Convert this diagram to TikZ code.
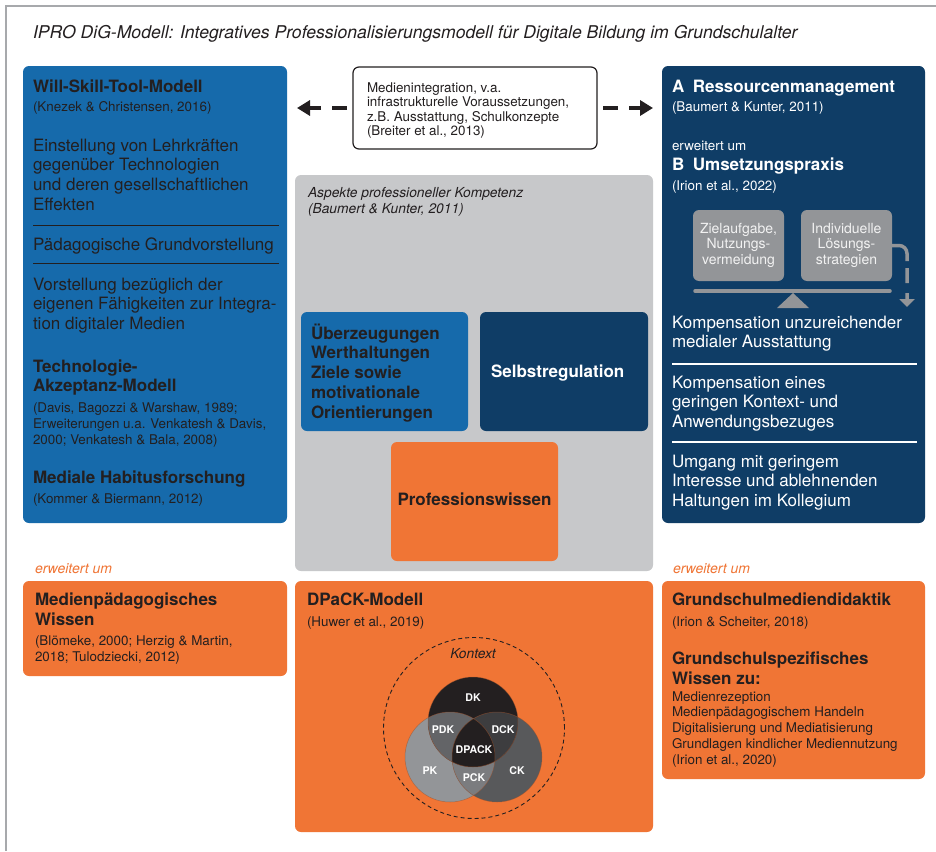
\documentclass[tikz,border=0pt]{standalone}
\usepackage{fontspec}
\setmainfont{TeX Gyre Heros}
\usetikzlibrary{arrows.meta}
\definecolor{dark}{HTML}{231F20}
\definecolor{midblue}{HTML}{166AAB}
\definecolor{navy}{HTML}{0F3D66}
\definecolor{orng}{HTML}{F07535}
\definecolor{lgray}{HTML}{C7C8CA}
\definecolor{mgray}{HTML}{939598}
\definecolor{framegray}{HTML}{A7A9AC}
\definecolor{dkcol}{HTML}{231F20}
\definecolor{pkcol}{HTML}{939598}
\definecolor{ckcol}{HTML}{58595B}
\definecolor{pdkcol}{HTML}{636467}
\definecolor{dckcol}{HTML}{3D3D3F}
\definecolor{pckcol}{HTML}{7B7C7F}
\newcommand\mylines[6]{%
  \foreach \t [count=\i] in {#6}{\node[#1] (#2-\i) at (#3,{#4+(\i-1)*(#5)}) {\t};}}
\tikzset{
  txt/.style={inner sep=0pt, outer sep=0pt, text=dark, anchor=base west},
  ctxt/.style={inner sep=0pt, outer sep=0pt, text=dark, anchor=base},
  fbody/.style={font=\fontsize{17}{20}\selectfont},
  fbold/.style={font=\fontsize{17}{20}\selectfont\bfseries},
  fsmall/.style={font=\fontsize{13.4}{16}\selectfont},
  fsit/.style={font=\fontsize{13.8}{16}\selectfont\itshape},
  fgbox/.style={font=\fontsize{14}{16}\selectfont},
  ferw/.style={font=\fontsize{14}{16}\selectfont\itshape, text=orng},
  fvenn/.style={font=\fontsize{10.6}{13}\selectfont\bfseries, text=white},
  panel/.style={rounded corners=6pt, draw=none, inner sep=0pt, outer sep=0pt, anchor=north west},
  sepdark/.style={draw=dark, line width=1pt},
  seplight/.style={draw=white, line width=1.2pt},
  darr/.style={draw=dark, line width=4pt, dash pattern=on 15pt off 11pt on 60pt,
    -{Triangle[length=13pt,width=15pt]}},
  sarr/.style={draw=mgray, line width=3.5pt, rounded corners=8pt,
    dash pattern=on 27pt off 7pt on 15pt off 10pt on 40pt,
    -{Triangle[length=8pt,width=15pt]}},
}
\begin{document}
\begin{tikzpicture}[x=1pt,y=-1pt]
\useasboundingbox (0,0) rectangle (936,851);
\fill[white] (0,0) rectangle (936,851);
% frame
\draw[framegray, line width=1.5pt] (6,851) -- (6,6) -- (936,6);
% title
\node[txt, font=\fontsize{17.6}{20}\selectfont\itshape] (title) at (33,39)
  {IPRO DiG-Modell: Integratives Professionalisierungsmodell für Digitale Bildung im Grundschulalter};

% ---------- left blue box
\node[panel, fill=midblue, minimum width=264pt, minimum height=457pt] (wst) at (23,66) {};
\node[txt, fbold] (wst-t) at (33,92) {Will-Skill-Tool-Modell};
\node[txt, fsmall] (wst-r) at (33,111) {(Knezek \& Christensen, 2016)};
\mylines{txt, fbody}{einst}{33}{151}{19.7}{Einstellung von Lehrkräften, gegenüber Technologien, und deren gesellschaftlichen, Effekten}
\draw[sepdark] (33,225) -- (279,225);
\node[txt, fbody] (paed) at (33,250) {Pädagogische Grundvorstellung};
\draw[sepdark] (33,263) -- (279,263);
\mylines{txt, fbody}{vorst}{33}{290}{19.7}{Vorstellung bezüglich der, eigenen Fähigkeiten zur Integra-, tion digitaler Medien}
\mylines{txt, fbold}{tam}{33}{372}{19.7}{Technologie-, Akzeptanz-Modell}
\mylines{txt, fsmall}{tamr}{33}{412}{16}{{(Davis, Bagozzi \& Warshaw, 1989;}, {Erweiterungen u.a. Venkatesh \& Davis,}, {2000; Venkatesh \& Bala, 2008)}}
\node[txt, fbold] (hab) at (33,483) {Mediale Habitusforschung};
\node[txt, fsmall] (habr) at (33,503) {(Kommer \& Biermann, 2012)};

% ---------- middle white box
\node[panel, fill=white, draw=dark, line width=1.2pt, minimum width=244pt, minimum height=82pt] (medien) at (353,67) {};
\mylines{txt, fsmall}{med}{367}{92}{14.5}{{Medienintegration, v.a.}, {infrastrukturelle Voraussetzungen,}, {z.B. Ausstattung, Schulkonzepte}, {(Breiter et al., 2013)}}
\coordinate (la) at (medien.west -| wst.east);

% ---------- right navy box
\node[panel, fill=navy, minimum width=263pt, minimum height=457pt] (res) at (662,66) {};
\coordinate (ra) at (medien.east -| res.west);
\draw[darr] ([xshift=-6pt]medien.west) -- ([xshift=10pt]la);
\draw[darr] ([xshift=6pt]medien.east) -- ([xshift=-9pt]ra);
\node[txt, fbold, text=white] (resA) at (672,92) {A\hspace{8.5pt}Ressourcenmanagement};
\node[txt, fsmall, text=white] (resAr) at (672,111) {(Baumert \& Kunter, 2011)};
\node[txt, fsmall, text=white] (resE) at (672,150) {erweitert um};
\node[txt, fbold, text=white] (resB) at (672,170) {B\hspace{8.5pt}Umsetzungspraxis};
\node[txt, fsmall, text=white] (resBr) at (672,190) {(Irion et al., 2022)};
\node[panel, fill=mgray, minimum width=91pt, minimum height=71pt] (zl) at (693,210) {};
\node[panel, fill=mgray, minimum width=91pt, minimum height=71pt] (lsg) at (801,210) {};
\mylines{ctxt, fgbox, text=white!95!black}{zlt}{738.5}{233}{15.5}{{Zielaufgabe,}, Nutzungs-, vermeidung}
\mylines{ctxt, fgbox, text=white!95!black}{lsgt}{846.5}{233}{15.5}{Individuelle, Lösungs-, strategien}
\draw[mgray, line width=3.5pt, line cap=round] ([xshift=2pt,yshift=-10pt]zl.south west) -- ([xshift=-2pt,yshift=-10pt]lsg.south east);
\coordinate (fulc) at (793,293);
\fill[mgray] (fulc) -- (809,308) -- (777,308) -- cycle;
\coordinate (sarrend) at (907,307);
\draw[sarr] (lsg.east) -| (sarrend);
\mylines{txt, fbody, text=white}{komp1}{672}{328}{19.8}{Kompensation unzureichender, medialer Ausstattung}
\draw[seplight] (672,364) -- (917,364);
\mylines{txt, fbody, text=white}{komp2}{672}{388}{19.8}{Kompensation eines, geringen Kontext- und, Anwendungsbezuges}
\draw[seplight] (672,442) -- (917,442);
\mylines{txt, fbody, text=white}{umg}{672}{467}{19.8}{Umgang mit geringem, Interesse und ablehnenden, Haltungen im Kollegium}

% ---------- center gray box
\node[panel, fill=lgray, minimum width=358pt, minimum height=396pt] (asp) at (295,175) {};
\node[txt, fsit] (aspt) at (308,197) {Aspekte professioneller Kompetenz};
\node[txt, fsit] (aspr) at (308,213) {(Baumert \& Kunter, 2011)};
\node[panel, fill=midblue, minimum width=167pt, minimum height=119pt] (ueb) at (301,312) {};
\mylines{txt, fbold}{uebt}{311}{339}{19.75}{Überzeugungen, Werthaltungen, Ziele sowie, motivationale, Orientierungen}
\node[panel, fill=navy, minimum width=168pt, minimum height=119pt] (sr) at (480,312) {};
\node[txt, fbold, text=white] (srt) at (491,377) {Selbstregulation};
\node[panel, fill=orng, minimum width=167pt, minimum height=119pt] (pw) at (391,442) {};
\node[ctxt, fbold] (pwt) at (474.5,505) {Professionswissen};

% ---------- bottom row
\node[txt, ferw] (erw1) at (35,573) {erweitert um};
\node[txt, ferw] (erw2) at (673,573) {erweitert um};

\node[panel, fill=orng, minimum width=264pt, minimum height=95pt] (mpw) at (23,581) {};
\mylines{txt, fbold}{mpwt}{35}{605}{20}{Medienpädagogisches, Wissen}
\mylines{txt, fsmall}{mpwr}{35}{645}{16}{{(Blömeke, 2000; Herzig \& Martin,}, {2018; Tulodziecki, 2012)}}

\node[panel, fill=orng, minimum width=358pt, minimum height=251pt] (dpk) at (295,581) {};
\node[txt, fbold] (dpkt) at (307,605) {DPaCK-Modell};
\node[txt, fsmall] (dpkr) at (307,626) {(Huwer et al., 2019)};

% Venn
\coordinate (ktc) at (474,728);
\coordinate (dkc) at (473,722);
\coordinate (pkc) at (450,757);
\coordinate (ckc) at (497,757);
\draw[dark, line width=0.9pt, dash pattern=on 4pt off 3pt] (ktc) circle (90.5pt);
\fill[pkcol] (pkc) circle (45pt);
\fill[ckcol] (ckc) circle (45pt);
\fill[dkcol] (dkc) circle (45pt);
\begin{scope}
  \clip (pkc) circle (45pt);
  \fill[pckcol] (ckc) circle (45pt);
\end{scope}
\begin{scope}
  \clip (dkc) circle (45pt);
  \fill[pdkcol] (pkc) circle (45pt);
  \fill[dckcol] (ckc) circle (45pt);
  \clip (pkc) circle (45pt);
  \fill[dkcol] (ckc) circle (45pt);
\end{scope}
\foreach \c in {dkc,pkc,ckc}{\draw[orng!60!dark, line width=0.5pt, opacity=0.6] (\c) circle (45pt);}
\node[ctxt, font=\fontsize{13.8}{16}\selectfont\itshape] (kont) at (473,658) {Kontext};
\node[ctxt, fvenn] (vdk) at (473,701) {DK};
\node[ctxt, fvenn] (vpdk) at (443,733) {PDK};
\node[ctxt, fvenn] (vdck) at (503,733) {DCK};
\node[ctxt, fvenn] (vdpack) at (474,753) {DPACK};
\node[ctxt, fvenn] (vpk) at (430,774) {PK};
\node[ctxt, fvenn] (vpck) at (474,781) {PCK};
\node[ctxt, fvenn] (vck) at (517,774) {CK};

\node[panel, fill=orng, minimum width=263pt, minimum height=198pt] (gsm) at (662,581) {};
\node[txt, fbold] (gsmt) at (672,605) {Grundschulmediendidaktik};
\node[txt, fsmall] (gsmr) at (672,626) {(Irion \& Scheiter, 2018)};
\mylines{txt, fbold}{gsw}{672}{664}{20}{Grundschulspezifisches, Wissen zu:}
\mylines{txt, fsmall}{gswl}{672}{701}{15.75}{Medienrezeption, Medienpädagogischem Handeln, Digitalisierung und Mediatisierung, Grundlagen kindlicher Mediennutzung, {(Irion et al., 2020)}}
\end{tikzpicture}
\end{document}
